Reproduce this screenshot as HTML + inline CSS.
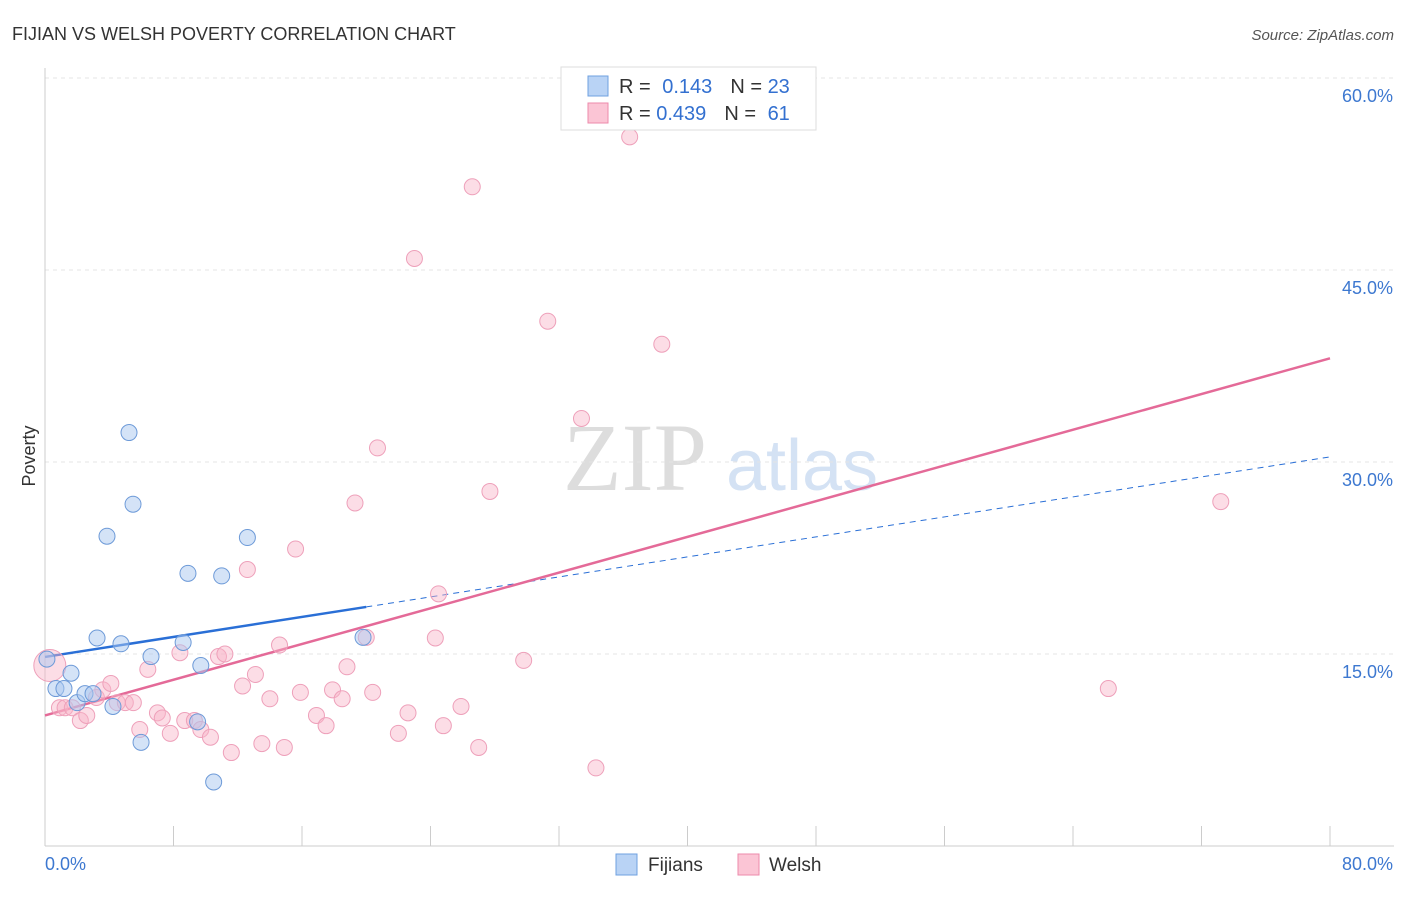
<!DOCTYPE html>
<html><head><meta charset="utf-8"><style>
body{margin:0;background:#fff;font-family:"Liberation Sans",sans-serif;}
</style></head><body>
<svg id="c" width="1406" height="892" xmlns="http://www.w3.org/2000/svg">
<text x="12" y="40" font-size="18" fill="#333">FIJIAN VS WELSH POVERTY CORRELATION CHART</text>
<text x="1394" y="40" font-size="15" fill="#555" font-style="italic" text-anchor="end">Source: ZipAtlas.com</text>
<text x="35" y="456" font-size="18" fill="#333" transform="rotate(-90 35 456)" text-anchor="middle">Poverty</text>
<g><text x="635" y="490" font-family="Liberation Serif,serif" font-size="96" fill="#ddd" text-anchor="middle">ZIP</text><text x="802" y="490" font-size="72" fill="#d4e2f4" text-anchor="middle">atlas</text></g>
<g id="grid"></g><g id="axes"></g><g id="lines"></g><g id="pts"></g>
<g>
<rect x="561" y="67" width="255" height="63" fill="#fff" stroke="#ddd"/>
<rect x="588" y="76" width="20" height="20" fill="#b9d3f5" stroke="#6fa0e0"/>
<rect x="588" y="103" width="20" height="20" fill="#fbc5d5" stroke="#ec8aab"/>
<text x="619" y="93" font-size="20" fill="#333">R = <tspan fill="#3370d0" dx="6">0.143</tspan><tspan dx="18" fill="#333">N = </tspan><tspan fill="#3370d0">23</tspan></text>
<text x="619" y="120" font-size="20" fill="#333">R = <tspan fill="#3370d0">0.439</tspan><tspan dx="18" fill="#333">N = </tspan><tspan fill="#3370d0" dx="6">61</tspan></text>
</g>
<g>
<rect x="616" y="854" width="21" height="21" fill="#b9d3f5" stroke="#6fa0e0"/>
<text x="648" y="871" font-size="19" fill="#333">Fijians</text>
<rect x="738" y="854" width="21" height="21" fill="#fbc5d5" stroke="#ec8aab"/>
<text x="769" y="871" font-size="19" fill="#333">Welsh</text>
</g>
</svg>
<script>
const fijX=[0.12,0.68,1.18,1.62,2.0,2.49,2.99,3.24,3.86,4.23,4.73,5.23,5.48,5.98,6.6,8.6,8.9,9.7,10.5,11.0,12.6,9.5,19.8];
const fijY=[14.6,12.3,12.3,13.5,11.2,11.9,11.9,16.25,24.2,10.9,15.8,32.3,26.7,8.1,14.8,15.9,21.3,14.1,5.0,21.1,24.1,9.7,16.3];
const welX=[0.3,0.9,1.25,1.7,2.2,2.6,3.2,3.6,4.1,4.5,5.0,5.5,5.9,6.4,7.0,7.3,7.8,8.4,8.7,9.3,9.7,10.3,10.8,11.2,11.6,12.3,12.6,13.1,13.5,14.0,14.6,14.9,15.6,15.9,16.9,17.5,17.9,18.5,18.8,19.3,20.0,20.4,20.7,22.0,22.6,23.0,24.3,24.5,24.8,25.9,26.6,27.0,27.7,29.8,31.3,33.4,34.3,36.4,38.4,66.2,73.2];
const welY=[14.1,10.8,10.8,10.8,9.8,10.2,11.6,12.2,12.7,11.2,11.2,11.2,9.1,13.8,10.4,10.0,8.8,15.1,9.8,9.8,9.1,8.5,14.8,15.0,7.3,12.5,21.6,13.4,8.0,11.5,15.7,7.7,23.2,12.0,10.2,9.4,12.2,11.5,14.0,26.8,16.3,12.0,31.1,8.8,10.4,45.9,16.25,19.7,9.4,10.9,51.5,7.7,27.7,14.5,41.0,33.4,6.1,55.4,39.2,12.3,26.9];
const yTicks=[15,30,45,60];
const yTickLabels=["15.0%","30.0%","45.0%","60.0%"];
const xTickLabels=["0.0%","80.0%"];
const fijTrend=[14.77,30.4];
const welTrend=[10.2,38.1];
const X=v=>45+v/80*1285, Y=v=>846-v/15*192;
const NS="http://www.w3.org/2000/svg";
function mk(p,t,a){const e=document.createElementNS(NS,t);for(const k in a)e.setAttribute(k,a[k]);document.getElementById(p).appendChild(e);return e;}
yTicks.forEach((t,i)=>{
 const g=mk('grid','line',{x1:45,x2:1394,y1:Y(t),y2:Y(t),stroke:'#e4e4e4','stroke-dasharray':'4,4'});
 
 
 const l=mk('axes','text',{x:1393,y:Y(t)+24,'font-size':18,fill:'#3d78d0','text-anchor':'end'});
 l.textContent=yTickLabels[i];
 
 
});
const ax=mk('axes','line',{x1:45,x2:1394,y1:846,y2:846,stroke:'#ccc'});


const ay=mk('axes','line',{x1:45,x2:45,y1:68,y2:846,stroke:'#ccc'});


for(let i=1;i<=10;i++){const t=mk('axes','line',{x1:X(i*8),x2:X(i*8),y1:826,y2:846,stroke:'#ccc'});
 
 }
[[0,'start',45],[80,'end',1393]].forEach((d,i)=>{const l=mk('axes','text',{x:d[2],y:870,'font-size':18,fill:'#3d78d0','text-anchor':d[1]});
 l.textContent=xTickLabels[i];
 
 });
const bs=(fijTrend[1]-fijTrend[0])/80;
let l1=mk('lines','line',{x1:X(0),y1:Y(fijTrend[0]),x2:X(20),y2:Y(fijTrend[0]+bs*20),stroke:'#2a6fd6','stroke-width':2.5});


let l2=mk('lines','line',{x1:X(20),y1:Y(fijTrend[0]+bs*20),x2:X(80),y2:Y(fijTrend[1]),stroke:'#2a6fd6','stroke-width':1,'stroke-dasharray':'6,5'});


let l3=mk('lines','line',{x1:X(0),y1:Y(welTrend[0]),x2:X(80),y2:Y(welTrend[1]),stroke:'#e46a98','stroke-width':2.5});


welX.forEach((x,i)=>{const c=mk('pts','circle',{cx:X(x),cy:Y(welY[i]),r:i==0?16:8,fill:'rgba(248,180,200,0.45)',stroke:'#eea0ba','stroke-width':1});
 
 });
fijX.forEach((x,i)=>{const c=mk('pts','circle',{cx:X(x),cy:Y(fijY[i]),r:8,fill:'rgba(170,200,240,0.5)',stroke:'#6d9ad8','stroke-width':1});
 
 });
</script>
</body></html>
